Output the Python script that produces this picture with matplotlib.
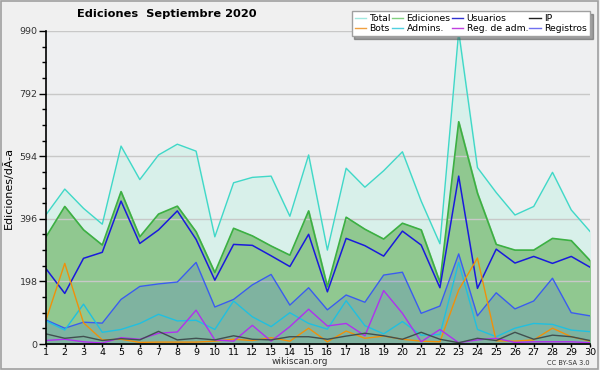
import matplotlib
matplotlib.use("Agg")
import matplotlib.pyplot as plt
from matplotlib.lines import Line2D
import numpy as np

days = list(range(1, 31))
total = [409, 490, 429, 379, 626, 520, 598, 632, 610, 339, 510, 527, 531, 404, 598,
         297, 556, 496, 548, 608, 452, 317, 988, 558, 479, 408, 435, 543, 424, 356]
ediciones = [339, 435, 361, 313, 482, 339, 411, 436, 355, 226, 366, 342, 310, 281, 421,
             181, 401, 363, 332, 382, 361, 195, 703, 477, 315, 297, 297, 334, 327, 264]
usuarios = [238, 160, 271, 290, 452, 318, 361, 421, 331, 202, 315, 312, 279, 245, 347,
            165, 334, 311, 278, 357, 313, 178, 531, 176, 300, 256, 277, 255, 277, 243]
registros = [76, 50, 69, 66, 141, 182, 190, 196, 258, 117, 141, 187, 220, 123, 178,
             108, 155, 132, 218, 227, 97, 120, 285, 89, 162, 111, 136, 208, 99, 89]
admins = [73, 44, 126, 37, 46, 65, 94, 73, 75, 46, 136, 86, 55, 99, 65,
          47, 137, 58, 32, 71, 28, 30, 258, 46, 23, 50, 65, 62, 44, 39]
bots = [76, 255, 67, 13, 15, 5, 6, 6, 6, 9, 15, 11, 20, 9, 50,
        7, 41, 18, 25, 15, 9, 7, 171, 272, 10, 9, 13, 50, 23, 9]
reg_adm = [11, 15, 7, 3, 20, 15, 34, 38, 107, 13, 9, 59, 9, 55, 110,
           57, 65, 26, 169, 97, 7, 46, 4, 13, 18, 5, 7, 7, 7, 4]
ip = [32, 18, 24, 11, 17, 13, 40, 13, 18, 13, 26, 15, 13, 23, 23,
      15, 25, 34, 26, 15, 37, 15, 4, 18, 11, 37, 15, 28, 23, 11]

ymax = 990
yticks = [0, 198, 396, 594, 792, 990]

fig = plt.figure(figsize=(6, 3.7), dpi=100, facecolor="#f0f0f0")
fig.patches.append(plt.Rectangle((0.002, 0.003), 0.995, 0.994, transform=fig.transFigure,
                                 fill=False, edgecolor="#a0a0a0", linewidth=1.2))
ax = fig.add_axes([46/600, 26/370, 544/600, 313/370])
ax.set_facecolor("#eeeff1")

x = np.array(days)
ax.fill_between(x, total, color="#d8f0ea", zorder=1)
ax.plot(x, total, color="#40d8c8", lw=1.0, zorder=5)
ax.fill_between(x, ediciones, color="#90c890", zorder=2)
ax.plot(x, ediciones, color="#3cb043", lw=1.2, zorder=5)
ax.fill_between(x, registros, color="#3050f0", alpha=0.17, lw=0, zorder=3)
ax.plot(x, usuarios, color="#1a1adc", lw=1.1, zorder=6)
ax.plot(x, registros, color="#3a5cf0", lw=1.0, zorder=6)
ax.plot(x, admins, color="#20c0e0", lw=1.0, zorder=6)
ax.plot(x, bots, color="#f0900a", lw=1.0, zorder=6)
ax.plot(x, reg_adm, color="#b030f0", lw=1.0, zorder=6)
ax.plot(x, ip, color="#405050", lw=1.0, zorder=6)

ax.set_xlim(1, 30)
ax.set_ylim(0, ymax)
ax.set_xticks(days)
ax.set_xticklabels([str(d) for d in days], fontsize=6.8)
ax.set_yticks(yticks)
ax.set_yticklabels([str(t) for t in yticks], fontsize=6.8, color="#333333")
ax.set_yticks(np.arange(0, ymax + 1, 49.5), minor=True)
ax.tick_params(axis="y", which="major", length=5, width=1, pad=1)
ax.tick_params(axis="y", which="minor", length=3, width=1)
ax.tick_params(axis="x", which="major", length=2.5, width=1, pad=0.5)
ax.grid(axis="y", which="major", color="#c8c8c8", lw=1, zorder=0)
ax.set_axisbelow(False)
for s in ["top", "right"]:
    ax.spines[s].set_visible(False)
ax.spines["left"].set_linewidth(1.2)
ax.spines["bottom"].set_linewidth(1.2)
ax.spines["left"].set_zorder(10)
ax.spines["bottom"].set_zorder(10)

ax.set_ylabel("Ediciones/dÃ-a", fontsize=8, labelpad=4)

fig.text(167/600, 1 - 14/370, "Ediciones  Septiembre 2020", fontsize=8.2,
         fontweight="bold", ha="center", va="center")
fig.text(300/600, 1 - 362/370, "wikiscan.org", fontsize=6.5, ha="center", va="center",
         color="#333333")
fig.text(590/600, 1 - 363/370, "CC BY-SA 3.0", fontsize=4.8, ha="right", va="center",
         color="#333333")

handles = [
    Line2D([], [], color="#a0e8e0", lw=1), Line2D([], [], color="#f0a040", lw=1),
    Line2D([], [], color="#80d080", lw=1), Line2D([], [], color="#50d0e0", lw=1),
    Line2D([], [], color="#3030d0", lw=1), Line2D([], [], color="#c040e0", lw=1),
    Line2D([], [], color="#202020", lw=1), Line2D([], [], color="#7070f0", lw=1),
]
labels = ["Total", "Bots", "Ediciones", "Admins.", "Usuarios", "Reg. de adm.",
          "IP", "Registros"]
leg = ax.legend(handles, labels, ncol=4, loc="upper right",
                bbox_to_anchor=(590/600, 1 - 11/370), bbox_transform=fig.transFigure,
                fontsize=6.7, frameon=True, fancybox=False, shadow=True,
                handlelength=1.2, handletextpad=0.35, columnspacing=0.15,
                labelspacing=0.1, borderpad=0.35, borderaxespad=0)
leg.get_frame().set_edgecolor("#a0a0a0")
leg.get_frame().set_facecolor("white")
leg.get_frame().set_alpha(1)
leg.set_zorder(20)

fig.savefig("out.png", dpi=100, facecolor=fig.get_facecolor())
